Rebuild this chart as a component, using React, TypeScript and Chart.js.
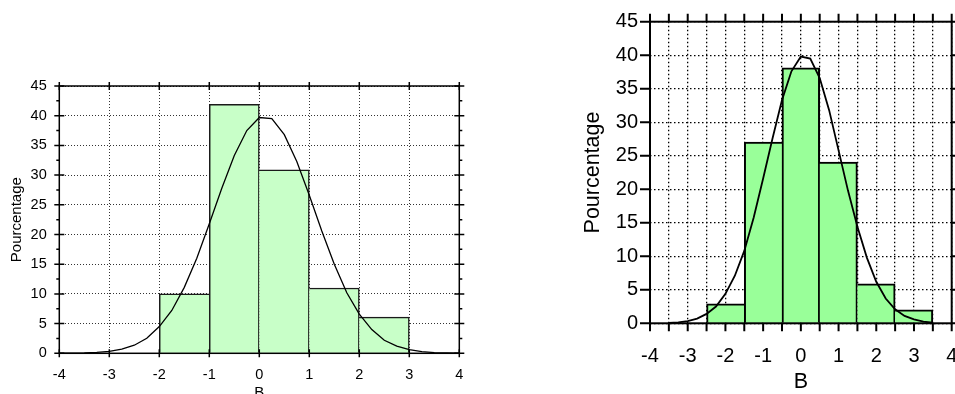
import React, { useEffect, useRef } from 'react';
import { Chart, registerables } from 'chart.js';

Chart.register(...registerables);

const FONT = '"Liberation Sans", Arial, Helvetica, sans-serif';

// ---------- Left histogram (bins of width 1, edges at integers) ----------
const leftBinCenters = [-1.5, -0.5, 0.5, 1.5, 2.5];
const leftPercent = [10, 41.9, 30.9, 11, 6.1];
const leftCurveX = [-4, -3.75, -3.5, -3.25, -3, -2.75, -2.5, -2.25, -2, -1.75, -1.5, -1.25, -1, -0.75, -0.5, -0.25, 0, 0.25, 0.5, 0.75, 1, 1.25, 1.5, 1.75, 2, 2.25, 2.5, 2.75, 3, 3.25, 3.5, 3.75, 4];
const leftCurveY = [0.01, 0.02, 0.06, 0.15, 0.33, 0.69, 1.36, 2.52, 4.5, 7.21, 11.1, 16.0, 21.8, 27.8, 33.3, 37.5, 39.7, 39.5, 36.8, 32.3, 26.6, 20.6, 15.0, 10.2, 6.6, 4.0, 2.2, 1.2, 0.6, 0.28, 0.12, 0.05, 0.02];
const leftXTicks = [-4, -3, -2, -1, 0, 1, 2, 3, 4];
const leftXMinorTicks: number[] = [];
const leftYTicks = [0, 5, 10, 15, 20, 25, 30, 35, 40, 45];
const leftYMinorTicks = [2.5, 7.5, 12.5, 17.5, 22.5, 27.5, 32.5, 37.5, 42.5];

// ---------- Right histogram (bins of width 1, centred on integers) ----------
const rightBinCenters = [-2, -1, 0, 1, 2, 3];
const rightPercent = [2.9, 27.05, 38.1, 24.05, 5.9, 2];
const rightCurveX = [-3.5, -3.25, -3, -2.75, -2.5, -2.25, -2, -1.75, -1.5, -1.25, -1, -0.75, -0.5, -0.25, 0, 0.25, 0.5, 0.75, 1, 1.25, 1.5, 1.75, 2, 2.25, 2.5, 2.75, 3, 3.25, 3.5];
const rightCurveY = [0.05, 0.15, 0.33, 0.7, 1.4, 2.5, 4.4, 7.1, 10.8, 15.8, 21.6, 27.6, 33.3, 37.6, 39.8, 39.5, 36.6, 31.8, 25.8, 19.8, 14.4, 9.8, 6.2, 3.7, 2.1, 1.1, 0.6, 0.25, 0.08];
const rightXTicks = [-4, -3, -2, -1, 0, 1, 2, 3, 4];
const rightXMinorTicks = [-3.5, -2.5, -1.5, -0.5, 0.5, 1.5, 2.5, 3.5];
const rightYTicks = [0, 5, 10, 15, 20, 25, 30, 35, 40, 45];
const rightYMinorTicks: number[] = [];

const framePlugin = {
  id: 'frame',
  afterDraw(chart: any, _args: any, o: any) {
    const { ctx, chartArea: a, scales } = chart;
    const x = scales.x;
    const y = scales.y;
    ctx.save();
    ctx.strokeStyle = o.color;
    ctx.lineWidth = o.lineWidth;
    ctx.lineCap = 'butt';
    ctx.strokeRect(a.left, a.top, a.right - a.left, a.bottom - a.top);
    ctx.beginPath();
    for (const t of x.ticks) {
      const px = x.getPixelForValue(t.value);
      const [inn, out] = o.xMajor.includes(t.value) ? o.xMajorLen : o.xMinorLen;
      ctx.moveTo(px, a.bottom - inn);
      ctx.lineTo(px, a.bottom + out);
      ctx.moveTo(px, a.top + inn);
      ctx.lineTo(px, a.top - out);
    }
    for (const t of y.ticks) {
      const py = y.getPixelForValue(t.value);
      const [inn, out] = o.yMajor.includes(t.value) ? o.yMajorLen : o.yMinorLen;
      ctx.moveTo(a.left + inn, py);
      ctx.lineTo(a.left - out, py);
      ctx.moveTo(a.right - inn, py);
      ctx.lineTo(a.right + out, py);
    }
    ctx.stroke();
    ctx.restore();
  },
};

function histConfig(p: any) {
  const bars = p.centers.map((c: number, i: number) => ({ x: c, y: p.values[i] }));
  const curve = p.curveX.map((x: number, i: number) => ({ x, y: p.curveY[i] }));
  const xAll = [...p.xMajor, ...p.xMinor].sort((a, b) => a - b);
  const yAll = [...p.yMajor, ...p.yMinor].sort((a, b) => a - b);
  const isXMajor = (v: number) => p.xMajor.includes(v);
  const isYMajor = (v: number) => p.yMajor.includes(v);
  const tickFont = { family: FONT, size: p.tickSize };
  const titleFont = { family: FONT, size: p.titleSize };
  return {
    type: 'bar',
    data: {
      datasets: [
        {
          type: 'line',
          data: curve,
          borderColor: '#000',
          borderWidth: p.curveWidth,
          pointRadius: 0,
          tension: 0,
          fill: false,
          order: 0,
        },
        {
          type: 'bar',
          data: bars,
          backgroundColor: p.barColor,
          borderColor: p.barBorder,
          borderSkipped: false,
          borderWidth: (ctx: any) => {
            const i = ctx.dataIndex;
            const v = p.values[i];
            const prev = p.values[i - 1];
            const next = p.values[i + 1];
            const w = p.barBorderWidth;
            return {
              top: w,
              bottom: 0,
              left: prev === undefined || v >= prev ? w : 0,
              right: next === undefined || v > next ? w : 0,
            };
          },
          barThickness: 'flex',
          barPercentage: 1,
          categoryPercentage: 1,
          order: 1,
        },
      ],
    },
    options: {
      animation: false,
      responsive: false,
      maintainAspectRatio: false,
      devicePixelRatio: 1,
      layout: { padding: { left: 0, top: p.area.top, right: p.width - p.area.right, bottom: 0 } },
      plugins: {
        legend: { display: false },
        tooltip: { enabled: false },
        frame: {
          color: '#000',
          lineWidth: p.frameWidth,
          xMajor: p.xMajor,
          yMajor: p.yMajor,
          xMajorLen: p.xMajorLen,
          xMinorLen: p.xMinorLen,
          yMajorLen: p.yMajorLen,
          yMinorLen: p.yMinorLen,
        },
      },
      scales: {
        x: {
          type: 'linear',
          min: -4,
          max: 4,
          offset: false,
          afterBuildTicks: (s: any) => {
            s.ticks = xAll.map((v) => ({ value: v }));
          },
          afterFit: (s: any) => {
            s.height = p.height - p.area.bottom;
            s.paddingLeft = 0;
            s.paddingRight = 0;
          },
          ticks: {
            autoSkip: false,
            maxRotation: 0,
            minRotation: 0,
            padding: p.xTickPad,
            color: '#000',
            font: tickFont,
            callback: (v: number) => (isXMajor(v) ? String(v) : ''),
          },
          grid: {
            offset: false,
            drawTicks: false,
            lineWidth: p.gridWidth,
            color: (ctx: any) =>
              ctx.tick && (isXMajor(ctx.tick.value) || p.xGridMinor) ? p.gridColor : 'rgba(0,0,0,0)',
          },
          border: { display: false, dash: p.gridDash },
          title: {
            display: true,
            text: 'B',
            color: '#000',
            font: titleFont,
            padding: { top: 0, bottom: p.xTitlePadBottom },
          },
        },
        y: {
          type: 'linear',
          min: 0,
          max: 45,
          afterBuildTicks: (s: any) => {
            s.ticks = yAll.map((v) => ({ value: v }));
          },
          afterFit: (s: any) => {
            s.width = p.area.left;
            s.paddingTop = 0;
            s.paddingBottom = 0;
          },
          ticks: {
            autoSkip: false,
            padding: p.yTickPad,
            color: '#000',
            font: tickFont,
            callback: (v: number) => (isYMajor(v) ? String(v) : ''),
          },
          grid: {
            drawTicks: false,
            lineWidth: p.gridWidth,
            color: (ctx: any) => (ctx.tick && isYMajor(ctx.tick.value) ? p.gridColor : 'rgba(0,0,0,0)'),
          },
          border: { display: false, dash: p.gridDash },
          title: {
            display: true,
            text: 'Pourcentage',
            color: '#000',
            font: titleFont,
            padding: { top: p.yTitlePadTop, bottom: 0 },
          },
        },
      },
    },
    plugins: [framePlugin],
  };
}

const LEFT = {
  width: 480,
  height: 394,
  area: { left: 59.3, right: 459.3, top: 86, bottom: 353.3 },
  centers: leftBinCenters,
  values: leftPercent,
  curveX: leftCurveX,
  curveY: leftCurveY,
  xMajor: leftXTicks,
  xMinor: leftXMinorTicks,
  yMajor: leftYTicks,
  yMinor: leftYMinorTicks,
  barColor: '#c8ffc8',
  barBorder: '#1a1a1a',
  barBorderWidth: 1.5,
  curveWidth: 1.3,
  frameWidth: 1.5,
  gridColor: '#333',
  gridWidth: 1,
  gridDash: [1, 2],
  xGridMinor: false,
  tickSize: 14.5,
  titleSize: 15,
  xTickPad: 13,
  yTickPad: 12.6,
  xTitlePadBottom: -8,
  yTitlePadTop: 7.7,
  xMajorLen: [4, 4],
  xMinorLen: [0, 0],
  yMajorLen: [5, 5],
  yMinorLen: [0, 3],
};

const RIGHT = {
  width: 475,
  height: 394,
  area: { left: 170, right: 471.7, top: 21.7, bottom: 323.3 },
  centers: rightBinCenters,
  values: rightPercent,
  curveX: rightCurveX,
  curveY: rightCurveY,
  xMajor: rightXTicks,
  xMinor: rightXMinorTicks,
  yMajor: rightYTicks,
  yMinor: rightYMinorTicks,
  barColor: '#99ff99',
  barBorder: '#000',
  barBorderWidth: 2,
  curveWidth: 1.8,
  frameWidth: 2,
  gridColor: '#000',
  gridWidth: 1.3,
  gridDash: [1.5, 2.5],
  xGridMinor: true,
  tickSize: 20,
  titleSize: 21.5,
  xTickPad: 21.4,
  yTickPad: 12,
  xTitlePadBottom: -0.9,
  yTitlePadTop: 100.1,
  xMajorLen: [0, 8],
  xMinorLen: [0, 8],
  yMajorLen: [0, 10],
  yMinorLen: [0, 0],
};

function Hist({ params, left }: { params: any; left: number }) {
  const ref = useRef<HTMLCanvasElement | null>(null);
  useEffect(() => {
    if (!ref.current) return;
    const chart = new Chart(ref.current, histConfig(params) as any);
    return () => chart.destroy();
  }, [params]);
  return (
    <canvas
      ref={ref}
      width={params.width}
      height={params.height}
      style={{ position: 'absolute', left, top: 0, width: params.width, height: params.height }}
    />
  );
}

export default function App() {
  return (
    <div style={{ position: 'absolute', left: 0, top: 0, width: 955, height: 394, background: '#fff', overflow: 'hidden' }}>
      <Hist params={LEFT} left={0} />
      <Hist params={RIGHT} left={480} />
    </div>
  );
}
